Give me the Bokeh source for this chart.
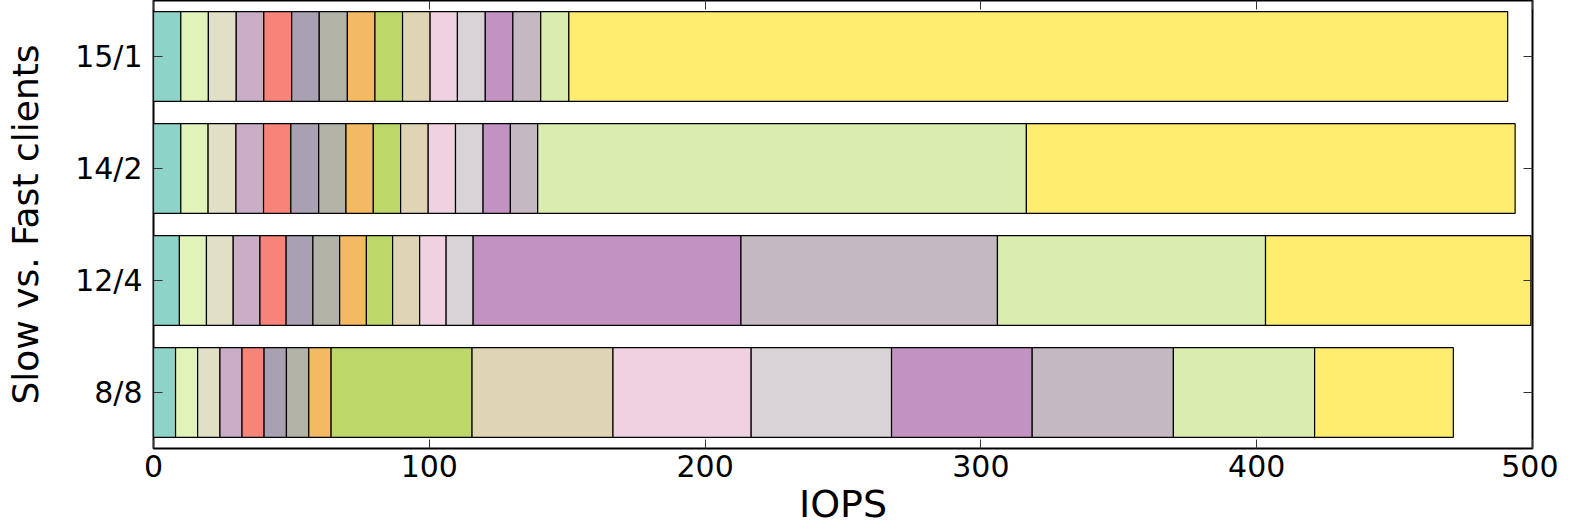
from bokeh.plotting import figure
from bokeh.models import (ColumnDataSource, FactorRange, Range1d, LinearAxis,
                          CategoricalAxis, FixedTicker)
from bokeh.embed import file_html
from bokeh.resources import INLINE

# ---------------- data (IOPS per client) ----------------
categories = ["8/8", "12/4", "14/2", "15/1"]

slow_8_8 = [8.0, 8.0, 8.1, 8.0, 8.0, 8.1, 8.1, 8.1]
fast_8_8 = [51.1, 51.1, 50.1, 50.9, 51.0, 51.2, 51.2, 50.3]

slow_12_4 = [9.4, 9.8, 9.7, 9.7, 9.5, 9.7, 9.7, 9.7, 9.5, 9.8, 9.6, 9.8]
fast_12_4 = [97.1, 93.0, 97.2, 96.2]

slow_14_2 = [9.9, 9.9, 10.1, 10.0, 9.9, 10.1, 9.9, 9.9, 9.9, 10.0, 9.9, 10.0, 9.9, 9.9]
fast_14_2 = [177.2, 177.2]

slow_15_1 = [9.9, 10.0, 10.1, 10.0, 10.1, 10.0, 10.2, 10.0, 10.0, 10.0, 9.9, 10.1, 10.0, 10.1, 10.2]
fast_15_1 = [340.4]

x_ticks = [0, 100, 200, 300, 400, 500]

# ---------------- build stacked table ----------------
per_cat = {
    "8/8": slow_8_8 + fast_8_8,
    "12/4": slow_12_4 + fast_12_4,
    "14/2": slow_14_2 + fast_14_2,
    "15/1": slow_15_1 + fast_15_1,
}
n_clients = 16
names = ["c%d" % (k + 1) for k in range(n_clients)]
data = {"category": categories}
for k, nm in enumerate(names):
    data[nm] = [per_cat[c][k] for c in categories]
source = ColumnDataSource(data)

# old matplotlib Set3 (linear segmented) sampled at 16 points
colors = ["#8dd3c7", "#e1f3b8", "#e1dfc5", "#caaec5", "#f78479", "#a9a1b3",
          "#b2b2a6", "#f3ba63", "#bdd868", "#dfd4b3", "#f0d1e1", "#d7d3d7",
          "#c292c3", "#c5b9c1", "#daecae", "#ffed6f"]

FONT = "DejaVu Sans"

p = figure(width=1558, height=528, output_backend="svg", toolbar_location=None,
           y_range=FactorRange(factors=categories), x_range=Range1d(0, 500),
           min_border_left=153, min_border_right=26, min_border_top=0,
           min_border_bottom=75)

p.hbar_stack(names, y="category", height=0.8, color=colors, line_color="black",
             line_width=1.2, source=source)

p.grid.visible = False
p.outline_line_color = "black"
p.outline_line_width = 2
p.background_fill_color = "white"
p.border_fill_color = "white"

ticker = FixedTicker(ticks=x_ticks)

xa = p.xaxis[0]
xa.ticker = ticker
xa.axis_label = "IOPS"
xa.axis_label_text_font = FONT
xa.axis_label_text_font_size = "38px"
xa.axis_label_text_font_style = "normal"
xa.axis_label_text_color = "black"
xa.axis_label_standoff = 2
xa.major_label_text_font = FONT
xa.major_label_text_font_size = "30px"
xa.major_label_text_color = "black"
xa.major_label_standoff = 6
xa.major_tick_in = 9
xa.major_tick_out = 0
xa.minor_tick_line_color = None
xa.major_tick_line_color = "#333333"
xa.axis_line_color = None

ya = p.yaxis[0]
ya.axis_label = "Slow vs. Fast clients"
ya.axis_label_text_font = FONT
ya.axis_label_text_font_size = "36px"
ya.axis_label_text_font_style = "normal"
ya.axis_label_text_color = "black"
ya.axis_label_standoff = 26
ya.major_label_text_font = FONT
ya.major_label_text_font_size = "30px"
ya.major_label_text_color = "black"
ya.major_label_standoff = 11
ya.major_tick_in = 9
ya.major_tick_out = 0
ya.major_tick_line_color = "#333333"
ya.axis_line_color = None

top = LinearAxis(ticker=ticker, major_label_text_font_size="0px",
                 major_label_text_color=None,
                 major_label_standoff=0, major_tick_in=9, major_tick_out=0,
                 minor_tick_line_color=None, axis_line_color=None,
                 major_tick_line_color="#333333")
p.add_layout(top, "above")

right = CategoricalAxis(major_label_text_font_size="0px", major_label_text_color=None,
                        major_label_standoff=0,
                        major_tick_in=9, major_tick_out=0, axis_line_color=None,
                        major_tick_line_color="#333333")
p.add_layout(right, "right")

open("out.html", "w").write(file_html(p, INLINE))
